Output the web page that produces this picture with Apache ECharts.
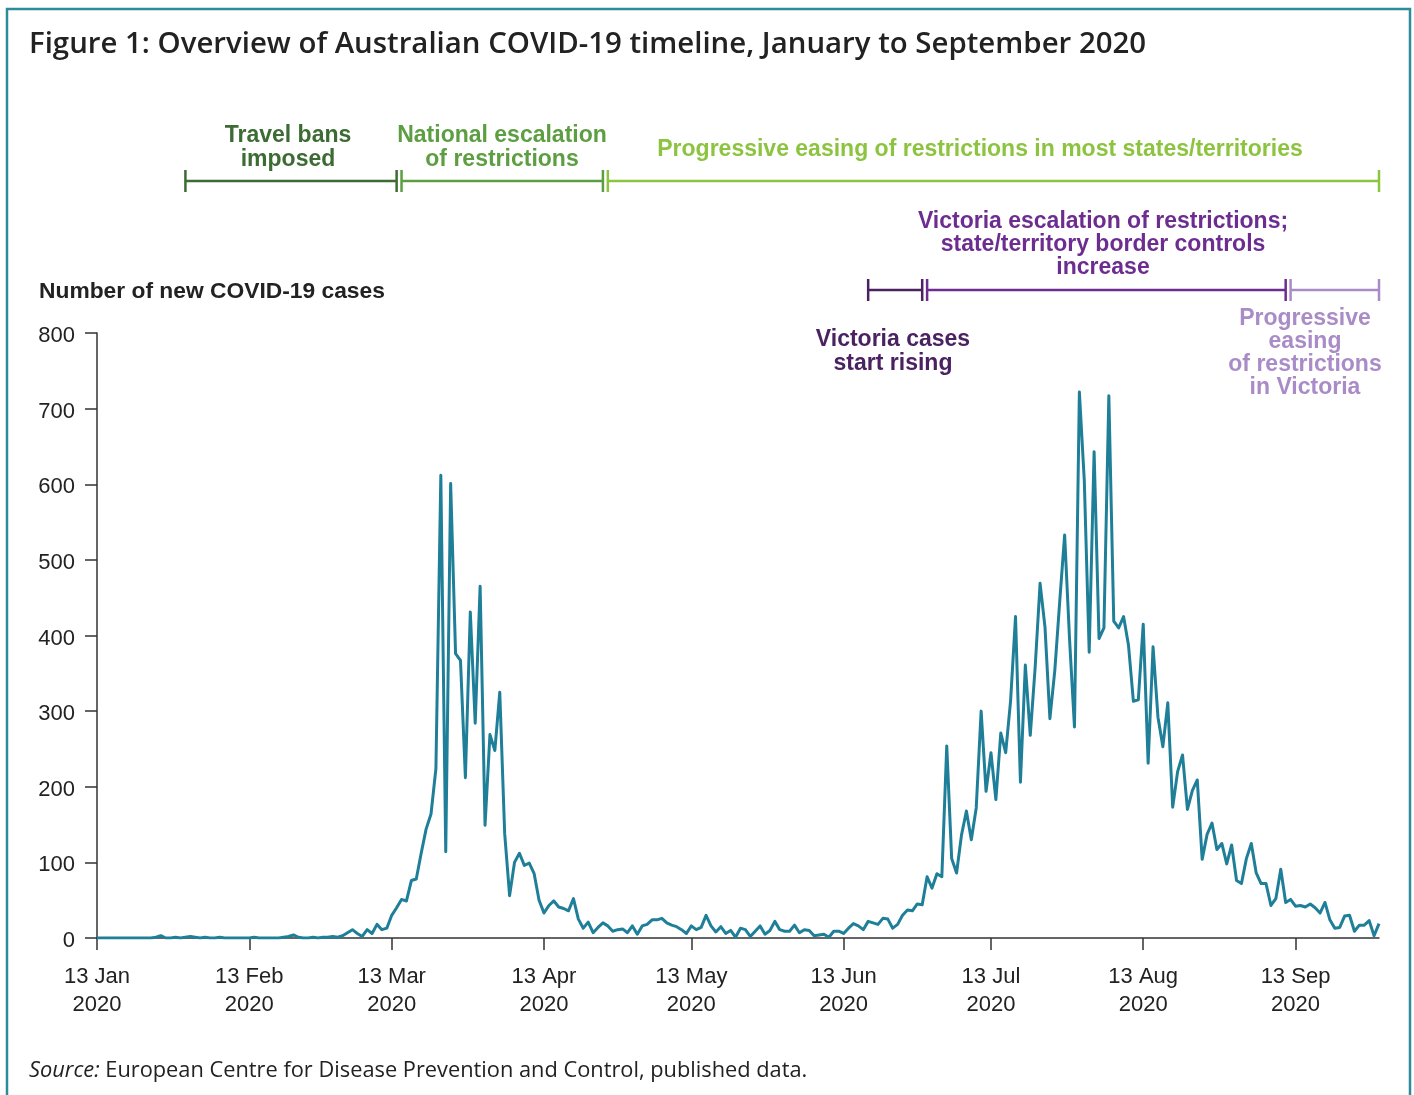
<!DOCTYPE html>
<html>
<head>
<meta charset="utf-8">
<script src="https://cdn.jsdelivr.net/npm/echarts@6/dist/echarts.min.js"></script>
<style>
html,body{margin:0;padding:0;background:#fff;}
#chart{width:1414px;height:1095px;}
</style>
</head>
<body>
<div id="chart"></div>
<script>
// ---- data ----
const startDate = '2020-01-13';
const newCases = [
  0,0,0,0,0,0,0,0,0,0,0,0,1,3,0,0,1,0,1,2,
  1,0,1,0,0,1,0,0,0,0,0,0,1,0,0,0,0,0,1,2,
  4,1,0,0,1,0,1,1,2,1,3,7,11,6,2,11,6,18,11,13,
  30,40,51,49,76,78,112,144,164,224,612,114,601,376,367,212,431,284,465,149,
  269,248,325,138,56,100,112,96,99,85,50,33,43,49,41,39,36,52,25,13,
  21,7,14,20,16,9,11,12,7,16,5,16,18,24,24,26,20,17,15,11,
  6,16,11,14,30,16,8,15,6,10,1,13,11,2,9,16,5,10,22,11,
  9,9,17,7,11,10,3,4,5,1,9,9,6,13,19,16,11,22,20,18,
  26,25,13,18,30,37,36,45,44,81,66,85,81,254,105,86,136,168,130,172,
  300,194,245,183,271,245,314,425,206,361,268,358,469,411,290,354,445,533,395,279,
  722,605,378,643,396,410,717,419,410,425,387,313,315,415,231,385,292,253,311,173,
  220,242,170,195,209,104,137,152,117,125,98,123,76,72,105,125,86,72,72,43,
  52,91,47,51,42,43,41,45,40,33,47,24,13,14,29,30,9,17,17,23,
  3,19
];
const tickDates = ['2020-01-13','2020-02-13','2020-03-13','2020-04-13','2020-05-13','2020-06-13','2020-07-13','2020-08-13','2020-09-13'];
const tickLabels = ['13 Jan\n2020','13 Feb\n2020','13 Mar\n2020','13 Apr\n2020','13 May\n2020','13 Jun\n2020','13 Jul\n2020','13 Aug\n2020','13 Sep\n2020'];
const yMin = 0, yMax = 800, yStep = 100;

// timeline phases (start date, end date, row: 1 = national, 0 = Victoria)
const phaseStart = ['2020-01-31','2020-03-15','2020-04-26','2020-06-18','2020-06-30','2020-09-12'];
const phaseEnd   = ['2020-03-14','2020-04-25','2020-09-30','2020-06-29','2020-09-11','2020-09-30'];
const phaseRow   = [1,1,1,0,0,0];

// ---- styles ----
const phaseColors = ['#3d6b34','#5c9e41','#8cc43f','#4a2262','#6d2d90','#a98bc7'];
const lineColor = '#1f7f99';
const textColor = '#222222';

// derived categories
const dates = newCases.map((_, i) => {
  const d = new Date(startDate + 'T00:00:00Z');
  d.setUTCDate(d.getUTCDate() + i);
  return d.toISOString().slice(0, 10);
});
const phaseData = phaseStart.map((s, i) => [dates.indexOf(s), dates.indexOf(phaseEnd[i]), phaseRow[i], i]);

const chart = echarts.init(document.getElementById('chart'), null, {renderer: 'canvas'});
const boldFont = '"Liberation Sans", Arial, sans-serif';
const annFont = 'bold 23px ' + boldFont;

const option = {
  backgroundColor: '#ffffff',
  animation: false,
  grid: [
    {left: 97, right: 35, top: 333, bottom: 157},
    {left: 97, right: 35, top: 181, height: 109}
  ],
  xAxis: [
    {
      type: 'category', gridIndex: 0, data: dates, boundaryGap: false,
      axisLine: {lineStyle: {color: '#333', width: 1.5}},
      axisTick: {show: true, length: 12, lineStyle: {color: '#333', width: 1.5},
        interval: (idx, val) => tickDates.indexOf(val) >= 0},
      axisLabel: {
        interval: (idx, val) => tickDates.indexOf(val) >= 0,
        formatter: (val) => tickLabels[tickDates.indexOf(val)],
        color: textColor, fontSize: 22, lineHeight: 28, margin: 25,
        fontFamily: boldFont
      },
      splitLine: {show: false}
    },
    {type: 'category', gridIndex: 1, data: dates, boundaryGap: false, show: false}
  ],
  yAxis: [
    {
      type: 'value', gridIndex: 0, min: yMin, max: yMax, interval: yStep,
      axisLine: {show: true, lineStyle: {color: '#333', width: 1.5}},
      axisTick: {show: true, length: 12, lineStyle: {color: '#333', width: 1.5}},
      axisLabel: {color: textColor, fontSize: 22, margin: 22, fontFamily: boldFont,
        formatter: '{v|{value}}', rich: {v: {fontSize: 22, fontFamily: boldFont, color: textColor, padding: [6, 0, 0, 0]}}},
      splitLine: {show: false}
    },
    {type: 'value', gridIndex: 1, min: 0, max: 1, show: false}
  ],
  series: [
    {
      type: 'line', xAxisIndex: 0, yAxisIndex: 0, data: newCases,
      showSymbol: false, symbol: 'none',
      lineStyle: {color: lineColor, width: 3, join: 'round'},
      z: 5
    },
    {
      type: 'custom', xAxisIndex: 1, yAxisIndex: 1, data: phaseData, clip: false,
      encode: {x: [0, 1], y: 2},
      renderItem: (params, api) => {
        const a = api.coord([api.value(0), api.value(2)]);
        const b = api.coord([api.value(1), api.value(2)]);
        const col = phaseColors[api.value(3)];
        const st = {stroke: col, lineWidth: 2.5};
        return {
          type: 'group',
          children: [
            {type: 'line', shape: {x1: a[0], y1: a[1], x2: b[0], y2: b[1]}, style: st},
            {type: 'line', shape: {x1: a[0], y1: a[1] - 11, x2: a[0], y2: a[1] + 11}, style: st},
            {type: 'line', shape: {x1: b[0], y1: b[1] - 11, x2: b[0], y2: b[1] + 11}, style: st}
          ]
        };
      }
    }
  ],
  graphic: [
    {type: 'rect', shape: {x: 7, y: 9, width: 1403, height: 1120},
      style: {fill: 'none', stroke: '#2e8b9b', lineWidth: 2.5}, silent: true},
    {type: 'text', x: 29, y: 45, style: {text: 'Figure 1: Overview of Australian COVID-19 timeline, January to September 2020',
      fill: textColor, font: '600 29.4px "Open Sans", "Noto Sans", sans-serif', textVerticalAlign: 'middle'}},
    {type: 'text', x: 39, y: 292, style: {text: 'Number of new COVID-19 cases',
      fill: textColor, font: 'bold 22.8px ' + boldFont, textVerticalAlign: 'middle'}},
    {type: 'text', x: 288, y: 148, style: {text: 'Travel bans\nimposed', fill: phaseColors[0],
      font: annFont, textAlign: 'center', textVerticalAlign: 'middle', lineHeight: 24}},
    {type: 'text', x: 502, y: 148, style: {text: 'National escalation\nof restrictions', fill: phaseColors[1],
      font: annFont, textAlign: 'center', textVerticalAlign: 'middle', lineHeight: 24}},
    {type: 'text', x: 980, y: 150, style: {text: 'Progressive easing of restrictions in most states/territories', fill: phaseColors[2],
      font: annFont, textAlign: 'center', textVerticalAlign: 'middle'}},
    {type: 'text', x: 1103, y: 245, style: {text: 'Victoria escalation of restrictions;\nstate/territory border controls\nincrease', fill: phaseColors[4],
      font: annFont, textAlign: 'center', textVerticalAlign: 'middle', lineHeight: 23}},
    {type: 'text', x: 893, y: 352, style: {text: 'Victoria cases\nstart rising', fill: phaseColors[3],
      font: annFont, textAlign: 'center', textVerticalAlign: 'middle', lineHeight: 24}},
    {type: 'text', x: 1305, y: 353, style: {text: 'Progressive\neasing\nof restrictions\nin Victoria', fill: phaseColors[5],
      font: annFont, textAlign: 'center', textVerticalAlign: 'middle', lineHeight: 23}},
    {type: 'text', x: 29, y: 1071, style: {
      text: '{i|Source:} European Centre for Disease Prevention and Control, published data.',
      fill: textColor, font: '21.8px "Open Sans", "Noto Sans", sans-serif', textVerticalAlign: 'middle',
      rich: {i: {fontStyle: 'italic', fontSize: 21.8, fontFamily: '"Open Sans", "Noto Sans", sans-serif', fill: textColor}}
    }}
  ]
};
chart.setOption(option);
</script>
</body>
</html>
